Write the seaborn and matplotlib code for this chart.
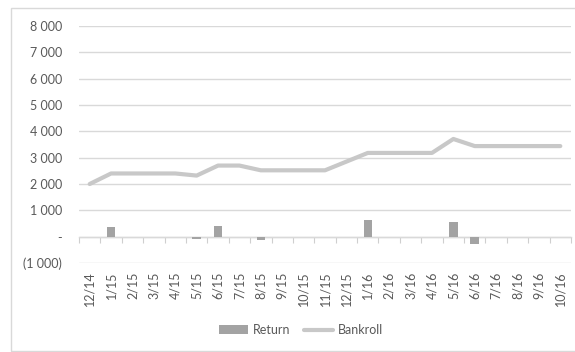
import matplotlib
matplotlib.use("Agg")
import matplotlib.pyplot as plt
from matplotlib.patches import Rectangle, Patch
from matplotlib.lines import Line2D
from matplotlib.ticker import FuncFormatter
import seaborn as sns
import pandas as pd
import numpy as np

months = ["12/14", "1/15", "2/15", "3/15", "4/15", "5/15", "6/15", "7/15",
          "8/15", "9/15", "10/15", "11/15", "12/15", "1/16", "2/16", "3/16",
          "4/16", "5/16", "6/16", "7/16", "8/16", "9/16", "10/16"]
returns = [0, 370, 0, 0, 0, -80, 420, 0, -140, 0, 0, 0, 0, 640, 0, 0,
           0, 560, -280, 0, 0, 0, 0]
bankroll = [2000, 2400, 2400, 2400, 2400, 2320, 2700, 2700, 2520, 2520,
            2520, 2520, 2850, 3180, 3180, 3180, 3180, 3710, 3440, 3440,
            3440, 3440, 3440]
y_ticks = [-1000, 0, 1000, 2000, 3000, 4000, 5000, 6000, 7000, 8000]

df = pd.DataFrame({"month": months, "Return": returns, "Bankroll": bankroll})

sns.set_theme(style="white")
plt.rcParams["font.family"] = ["Lato", "DejaVu Sans"]

text_c = "#595959"
grid_c = "#d9d9d9"
bar_c = "#a3a3a3"
line_c = "#c8c8c8"

fig = plt.figure(figsize=(5.75, 3.52), dpi=100)
ax = fig.add_axes([79 / 575, 1 - 263 / 352, 492 / 575, 237 / 352])

sns.barplot(data=df, x="month", y="Return", color=bar_c, width=0.4,
            saturation=1, linewidth=0, ax=ax, zorder=3)
sns.lineplot(data=df, x="month", y="Bankroll", color=line_c, linewidth=3.0,
             ax=ax, zorder=4, sort=False)

ax.set_xlim(-0.5, len(months) - 0.5)
ax.set_ylim(-1000, 8000)
ax.set_yticks(y_ticks)


def fmt(v, _):
    if v == 0:
        return "-"
    s = f"{abs(int(v)):,}".replace(",", " ")
    return f"({s})" if v < 0 else s


ax.yaxis.set_major_formatter(FuncFormatter(fmt))
ax.grid(axis="y", color=grid_c, linewidth=1)
ax.set_axisbelow(True)
for s in ax.spines.values():
    s.set_visible(False)
ax.set_xlabel("")
ax.set_ylabel("")
ax.tick_params(axis="y", length=0, labelsize=9, labelcolor=text_c, pad=12)
ax.set_xticks(range(len(months)))
ax.set_xticklabels(months, rotation=90)
ax.tick_params(axis="x", length=0, labelsize=9, labelcolor=text_c, pad=6)

# category axis drawn along the zero line with boundary ticks
sec = ax.secondary_xaxis(0, transform=ax.transData)
sec.set_xticks(np.arange(-0.5, len(months), 1.0))
sec.set_xticklabels([])
sec.tick_params(axis="x", length=4, width=0.8, color="#cfcfcf",
                direction="out")
sec.spines["bottom"].set_color(grid_c)
sec.spines["bottom"].set_linewidth(1)

handles = [Patch(facecolor=bar_c, edgecolor="none"),
           Line2D([0], [0], color=line_c, linewidth=3.0)]
fig.legend(handles, ["Return", "Bankroll"], loc="center",
           bbox_to_anchor=(301 / 575, 1 - 330 / 352), ncol=2, frameon=False,
           fontsize=9, labelcolor=text_c, handlelength=2.3, handleheight=0.7,
           columnspacing=1.1, handletextpad=0.4)

fig.patches.append(Rectangle((10.5 / 575, 1 - 350.5 / 352), 570 / 575,
                             343 / 352, transform=fig.transFigure,
                             fill=False, edgecolor="#d9d9d9", linewidth=1))

fig.savefig("out.png", dpi=100, facecolor="white")
